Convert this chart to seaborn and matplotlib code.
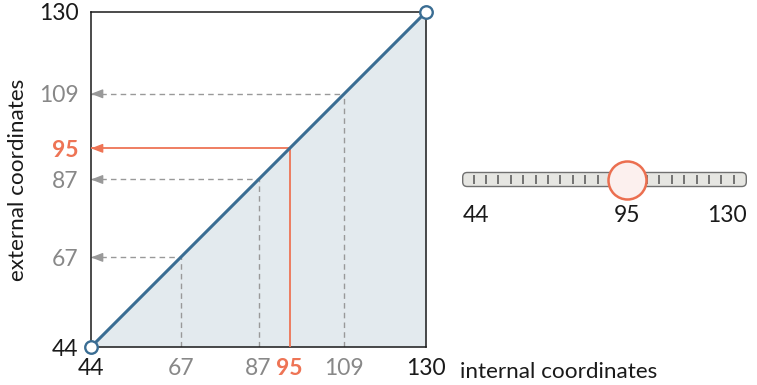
import numpy as np
import pandas as pd
import matplotlib
matplotlib.use("Agg")
import matplotlib.pyplot as plt
from matplotlib.patches import FancyBboxPatch
import seaborn as sns

# Coordinate range and the sampled values shown on the mapping
coord_range = [44, 130]
guide_values = [67, 87, 109]
current_value = 95

BLUE = "#3a6d93"
FILL = "#e3eaee"
CORAL = "#ee7455"
GRAY = "#999999"
LABEL_GRAY = "#888888"
INK = "#1a1a1a"

sns.set_theme(style="white")
plt.rcParams["font.family"] = ["Lato", "DejaVu Sans"]

TICK_FS = 16.5
LABEL_FS = 16.2

W, H = 757, 385
fig = plt.figure(figsize=(W / 100, H / 100), dpi=100)

def px_axes(x0, y0, x1, y1):
    return fig.add_axes([x0 / W, 1 - y1 / H, (x1 - x0) / W, (y1 - y0) / H])

ax = px_axes(91, 12, 426, 347)
lo, hi = coord_range

# identity mapping internal -> external
df = pd.DataFrame({"internal": coord_range, "external": coord_range})
ax.fill_between(df["internal"], lo, df["external"], color=FILL, zorder=1, lw=0)
sns.lineplot(data=df, x="internal", y="external", ax=ax, color=BLUE, lw=2.2,
             zorder=4)
ax.plot(df["internal"], df["external"], ls="none", marker="o", ms=9,
        mfc="white", mec=BLUE, mew=1.7, clip_on=False, zorder=6)

ax.set_xlim(lo, hi)
ax.set_ylim(lo, hi)

arrow_kw = dict(arrowstyle="-|>,head_length=0.7,head_width=0.27",
                shrinkA=0, shrinkB=0, mutation_scale=10, lw=1)

def guide(v, color, ls, lw, z):
    ax.plot([v, v], [lo, v], color=color, ls=ls, lw=lw, zorder=z)
    ax.plot([lo, v], [v, v], color=color, ls=ls, lw=lw, zorder=z)
    ax.annotate("", xy=(lo, v), xytext=(8, 0), textcoords="offset points",
                arrowprops=dict(color=color, **arrow_kw), zorder=z + 1,
                annotation_clip=False)

for v in guide_values:
    guide(v, GRAY, (0, (4, 3)), 1.0, 2)
guide(current_value, CORAL, "-", 1.3, 3)

ticks = sorted([lo] + guide_values + [current_value, hi])
ax.set_xticks(ticks)
ax.set_yticks(ticks)
ax.set_xticklabels([str(t) for t in ticks])
ax.set_yticklabels([str(t) for t in ticks])
ax.tick_params(axis="both", length=0, labelsize=TICK_FS)
ax.tick_params(axis="x", pad=8)
ax.tick_params(axis="y", pad=9)
for lab_x, lab_y, t in zip(ax.get_xticklabels(), ax.get_yticklabels(), ticks):
    for lab in (lab_x, lab_y):
        if t == current_value:
            lab.set_color(CORAL)
            lab.set_fontweight("bold")
        elif t in guide_values:
            lab.set_color(LABEL_GRAY)
        else:
            lab.set_color(INK)

for s in ax.spines.values():
    s.set_color(INK)
    s.set_linewidth(1.1)

ax.set_xlabel("")
ax.set_ylabel("external coordinates", fontsize=LABEL_FS, color=INK, labelpad=8)
ax.annotate("internal coordinates", xy=(1.0, 0), xycoords="axes fraction",
            xytext=(34, -25), textcoords="offset pixels",
            fontsize=LABEL_FS, color=INK, ha="left", va="center")

# slider widget showing the current internal value
sx0, sx1 = 462, 747
sy0, sy1 = 159.5, 199.5
sax = px_axes(sx0, sy0, sx1, sy1)
thumb_r = 19
k = (hi - lo) / ((sx1 - sx0) - 2 * thumb_r)
sax.set_xlim(lo - thumb_r * k, hi + thumb_r * k)
half_h = (sy1 - sy0) / 2 * k
sax.set_ylim(-half_h, half_h)
sax.axis("off")

xa, xb = sax.get_xlim()
track = FancyBboxPatch((xa + 0.7 * k, -7 * k), (xb - xa) - 1.4 * k, 14 * k,
                       boxstyle=f"round,pad=0,rounding_size={4.5 * k}",
                       fc="#e6e6e2", ec="#707070", lw=1.0, zorder=1)
sax.add_patch(track)
tick_x = np.linspace(xa + 11.7 * k, xb - 13.3 * k, 22)
sax.vlines(tick_x, -4.5 * k, 4.5 * k, color="#6a6a6a", lw=1.3, zorder=2)
sax.scatter([current_value], [0], s=(2 * thumb_r * 0.72) ** 2,
            fc="#fcf0ee", ec="#eb6f50", lw=1.8, zorder=3, clip_on=False)

label_y = 215.5
for val, xpos, ha in [(lo, sx0 + 1, "left"), (hi, sx1, "right")]:
    fig.text(xpos / W, 1 - label_y / H, str(val), fontsize=TICK_FS, color=INK,
             ha=ha, va="center")
fig.text((sx0 + (current_value - xa) / k) / W, 1 - label_y / H,
         str(current_value), fontsize=TICK_FS, color=INK, ha="center",
         va="center")

fig.savefig("out.png", dpi=100)
